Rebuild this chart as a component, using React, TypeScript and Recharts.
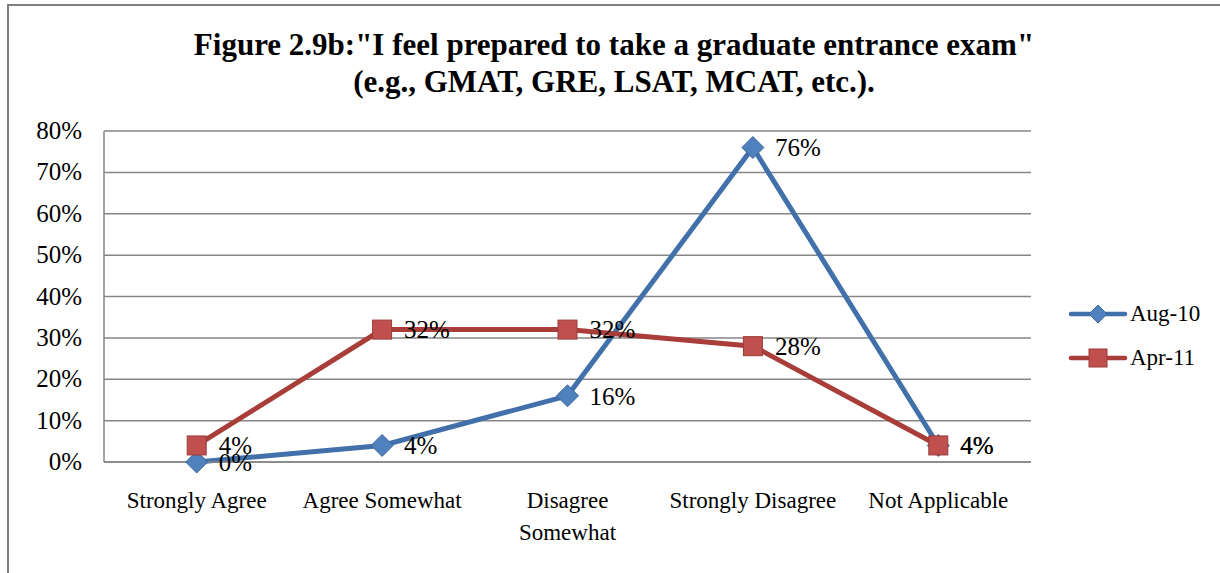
import React from 'react';
import { LineChart, Line, XAxis, YAxis, CartesianGrid, LabelList } from 'recharts';

const categories = ['Strongly Agree', 'Agree Somewhat', 'Disagree Somewhat', 'Strongly Disagree', 'Not Applicable'];
const aug10 = [0, 4, 16, 76, 4];
const apr11 = [4, 32, 32, 28, 4];
const yTicks = [0, 10, 20, 30, 40, 50, 60, 70, 80];

const data = categories.map((name, i) => ({ name, aug: aug10[i], apr: apr11[i] }));

const FONT = '"Liberation Serif", "Times New Roman", serif';
const BLUE_LINE = '#4170AA';
const BLUE_FILL = '#4F81BD';
const BLUE_EDGE = '#3A679C';
const RED_LINE = '#A83D3A';
const RED_FILL = '#C0504D';
const RED_EDGE = '#9B3B38';

const textStyle = { fontFamily: FONT, fontSize: 23, fill: '#000' };
const numStyle = { fontFamily: FONT, fontSize: 25, fill: '#000' };

function Diamond({ cx, cy }: { cx?: number; cy?: number }) {
  if (cx == null || cy == null) return null;
  const r = 11;
  return (
    <path
      d={`M${cx},${cy - r} L${cx + r},${cy} L${cx},${cy + r} L${cx - r},${cy} Z`}
      fill={BLUE_FILL}
      stroke={BLUE_EDGE}
      strokeWidth={1}
    />
  );
}

function Square({ cx, cy }: { cx?: number; cy?: number }) {
  if (cx == null || cy == null) return null;
  const h = 9.5;
  return <rect x={cx - h} y={cy - h} width={h * 2} height={h * 2} fill={RED_FILL} stroke={RED_EDGE} strokeWidth={1} />;
}

function XTick({ x, y, payload }: any) {
  const words: string[] = payload.value === 'Disagree Somewhat' ? ['Disagree', 'Somewhat'] : [payload.value];
  return (
    <text x={x} y={y + 38} textAnchor="middle" style={textStyle}>
      {words.map((w, i) => (
        <tspan key={i} x={x} dy={i === 0 ? 0 : 32}>{w}</tspan>
      ))}
    </text>
  );
}

function YTick({ x, y, payload }: any) {
  return (
    <text x={x - 14} y={y + 8} textAnchor="end" style={numStyle}>
      {payload.value}%
    </text>
  );
}

function ChartLegend() {
  const items = [
    { label: 'Aug-10', color: BLUE_LINE, marker: 'diamond' },
    { label: 'Apr-11', color: RED_LINE, marker: 'square' },
  ];
  return (
    <div style={{ position: 'absolute', left: 1068, top: 292, fontFamily: FONT, fontSize: 23 }}>
      {items.map((it) => (
        <div key={it.label} style={{ display: 'flex', alignItems: 'center', height: 44 }}>
          <svg width={60} height={20}>
            <line x1={3} y1={10} x2={57} y2={10} stroke={it.color} strokeWidth={4.5} strokeLinecap="round" />
            {it.marker === 'diamond' ? (
              <path d="M30,1 L39,10 L30,19 L21,10 Z" fill={BLUE_FILL} stroke={BLUE_EDGE} />
            ) : (
              <rect x={21} y={1} width={18} height={18} fill={RED_FILL} stroke={RED_EDGE} />
            )}
          </svg>
          <span style={{ marginLeft: 2 }}>{it.label}</span>
        </div>
      ))}
    </div>
  );
}

export default function App() {
  return (
    <div style={{ position: 'fixed', left: 0, top: 0, width: 1220, height: 573, overflow: 'hidden', background: '#fff' }}>
      <div
        style={{
          position: 'absolute', left: 7, top: 4, width: 1300, height: 700,
          borderLeft: '2px solid #7f7f7f', borderTop: '2px solid #7f7f7f',
        }}
      />
      <div
        style={{
          position: 'absolute', left: 0, top: 26, width: 1228, textAlign: 'center',
          fontFamily: FONT, fontWeight: 'bold', fontSize: 31, lineHeight: '37px', color: '#000',
        }}
      >
        Figure 2.9b:"I feel prepared to take a graduate entrance exam"
        <br />
        (e.g., GMAT, GRE, LSAT, MCAT, etc.).
      </div>
      <div style={{ position: 'absolute', left: 0, top: 0 }}>
        <LineChart width={1220} height={573} data={data} margin={{ top: 131, right: 189, bottom: 0, left: 24 }}>
          <CartesianGrid vertical={false} stroke="#868686" strokeWidth={1.5} />
          <XAxis
            dataKey="name"
            tick={<XTick />}
            tickLine={false}
            axisLine={{ stroke: '#868686', strokeWidth: 1.5 }}
            padding={{ left: 92.7, right: 92.7 }}
            interval={0}
            height={111}
          />
          <YAxis
            domain={[0, 80]}
            ticks={yTicks}
            tick={<YTick />}
            tickLine={false}
            axisLine={{ stroke: '#868686', strokeWidth: 1.5 }}
            width={80}
          />
          <Line
            name="Aug-10"
            dataKey="aug"
            stroke={BLUE_LINE}
            strokeWidth={5}
            dot={<Diamond />}
            activeDot={false}
            isAnimationActive={false}
          >
            <LabelList dataKey="aug" position="right" offset={22} formatter={(v: any) => `${v}%`} style={numStyle} />
          </Line>
          <Line
            name="Apr-11"
            dataKey="apr"
            stroke={RED_LINE}
            strokeWidth={5}
            dot={<Square />}
            activeDot={false}
            isAnimationActive={false}
          >
            <LabelList dataKey="apr" position="right" offset={22} formatter={(v: any) => `${v}%`} style={numStyle} />
          </Line>
        </LineChart>
      </div>
      <ChartLegend />
    </div>
  );
}
